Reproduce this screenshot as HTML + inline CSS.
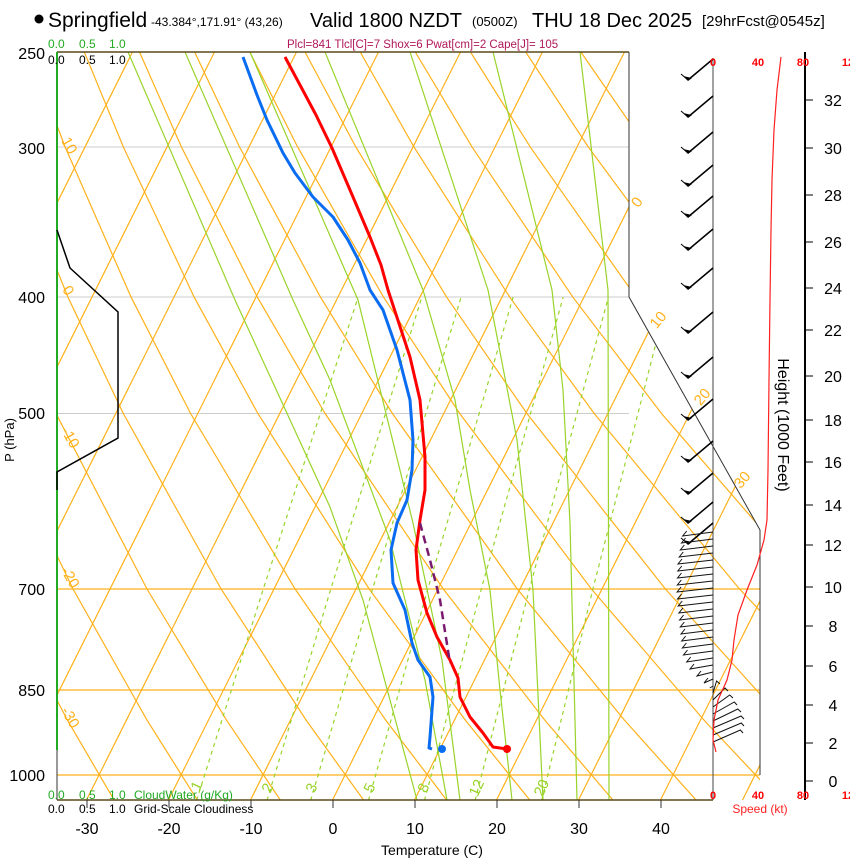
<!DOCTYPE html>
<html><head><meta charset="utf-8">
<style>
html,body{margin:0;padding:0;background:#fff;}
svg{display:block;font-family:"Liberation Sans",sans-serif;}
</style></head>
<body>
<svg width="850" height="860" viewBox="0 0 850 860" xmlns="http://www.w3.org/2000/svg" xmlns:xlink="http://www.w3.org/1999/xlink">
<defs>
<clipPath id="cp"><polygon points="57,52 629,52 629,297 760,530 760,800 57,800"/></clipPath>
<g id="b"><line x1="713" y1="0" x2="688" y2="21" stroke="#000" stroke-width="1.5"/><polygon points="683,17 692,19 688,22" fill="#000"/><line x1="688" y1="21" x2="681" y2="15" stroke="#000" stroke-width="1"/></g>
</defs>
<rect width="850" height="860" fill="#fff"/>
<g clip-path="url(#cp)" fill="none">
<g stroke="#cccccc" stroke-width="1"><line x1="57" y1="147" x2="629" y2="147"/><line x1="57" y1="297" x2="629" y2="297"/><line x1="57" y1="413.5" x2="629" y2="413.5"/></g>
<g stroke="#ffb11a" stroke-width="1.2"><line x1="57" y1="589" x2="760" y2="589"/><line x1="57" y1="690" x2="760" y2="690"/><line x1="57" y1="775" x2="760" y2="775"/></g>
<g stroke="#ffb11a" stroke-width="1.2">
<line x1="-323.5" y1="800" x2="50.5" y2="52"/>
<line x1="-241.5" y1="800" x2="132.5" y2="52"/>
<line x1="-159.5" y1="800" x2="214.5" y2="52"/>
<line x1="-77.5" y1="800" x2="296.5" y2="52"/>
<line x1="4.5" y1="800" x2="378.5" y2="52"/>
<line x1="86.5" y1="800" x2="460.5" y2="52"/>
<line x1="168.5" y1="800" x2="542.5" y2="52"/>
<line x1="250.5" y1="800" x2="624.5" y2="52"/>
<line x1="332.5" y1="800" x2="706.5" y2="52"/>
<line x1="414.5" y1="800" x2="788.5" y2="52"/>
<line x1="496.5" y1="800" x2="870.5" y2="52"/>
<line x1="578.5" y1="800" x2="952.5" y2="52"/>
<line x1="660.5" y1="800" x2="1034.5" y2="52"/>
<line x1="742.5" y1="800" x2="1116.5" y2="52"/>
</g>
<g stroke="#ffb11a" stroke-width="1.2">
<polyline points="114.3,800.4 67.4,720.1 -1.1,589 -78.5,413.5 -121.3,297.2 -167.3,147.1 -191.6,52"/>
<polyline points="197.5,800.4 147,720.1 73,589 -11.2,413.5 -58.2,297.2 -109.2,147.1 -136.4,52"/>
<polyline points="280.6,800.4 226.5,720.1 147,589 56,413.5 4.9,297.2 -51,147.1 -81.2,52"/>
<polyline points="363.8,800.4 306.1,720.1 221.1,589 123.3,413.5 68,297.2 7.1,147.1 -26.1,52"/>
<polyline points="446.9,800.4 385.7,720.1 295.1,589 190.6,413.5 131.1,297.2 65.2,147.1 29.1,52"/>
<polyline points="530.1,800.4 465.3,720.1 369.2,589 257.9,413.5 194.2,297.2 123.4,147.1 84.3,52"/>
<polyline points="613.2,800.4 544.8,720.1 443.3,589 325.1,413.5 257.4,297.2 181.5,147.1 139.5,52"/>
<polyline points="696.4,800.4 624.4,720.1 517.3,589 392.4,413.5 320.5,297.2 239.6,147.1 194.6,52"/>
<polyline points="779.5,800.4 704,720.1 591.4,589 459.7,413.5 383.6,297.2 297.7,147.1 249.8,52"/>
<polyline points="862.7,800.4 783.5,720.1 665.4,589 526.9,413.5 446.7,297.2 355.9,147.1 305,52"/>
<polyline points="945.8,800.4 863.1,720.1 739.5,589 594.2,413.5 509.8,297.2 414,147.1 360.2,52"/>
<polyline points="1029,800.4 942.7,720.1 813.6,589 661.5,413.5 572.9,297.2 472.1,147.1 415.3,52"/>
<polyline points="1112,800.4 1022.2,720.1 887.6,589 728.7,413.5 636,297.2 530.3,147.1 470.5,52"/>
<polyline points="1195,800.4 1101.8,720.1 961.7,589 796,413.5 699.1,297.2 588.4,147.1 525.7,52"/>
<polyline points="1278,800.4 1181.4,720.1 1035.7,589 863.3,413.5 762.2,297.2 646.5,147.1 580.9,52"/>
</g>
<g stroke="#99d42a" stroke-width="1.2" stroke-dasharray="4,4">
<polyline points="196.6,800.4 263.3,589 358.1,297.2"/>
<polyline points="267,800.4 330.8,589 421.8,297.2"/>
<polyline points="310.7,800.4 372.6,589 461.1,297.2"/>
<polyline points="368.5,800.4 427.8,589 513.1,297.2"/>
<polyline points="424.5,800.4 481.3,589 563.2,297.2"/>
<polyline points="475.1,800.4 529.4,589 608.4,297.2"/>
<polyline points="541.7,800.4 592.9,589 667.8,297.2"/>
</g>
<g stroke="#99d42a" stroke-width="1.2">
<polyline points="128,52 235,300 330,507 363,600 417,800"/>
<polyline points="185,52 293,300 330,380 390,540 425,680 447,800"/>
<polyline points="250,52 358,300 413,523 442,660 460,800"/>
<polyline points="325,52 423,290 455,400 470,490 490,590 500,690 512,800"/>
<polyline points="410,52 488,290 517,440 533,590 543,800"/>
<polyline points="493,52 552,290 563,390 570,523 577,800"/>
<polyline points="580,52 608,290 609,800"/>
</g>
</g>
<line x1="57" y1="52" x2="629" y2="52" stroke="#5a4a1a" stroke-width="1.5"/>
<polyline points="629,52 629,297 760,530 760,775" fill="none" stroke="#333" stroke-width="1"/>
<line x1="57" y1="800" x2="713" y2="800" stroke="#5a4a1a" stroke-width="1.5"/>
<g stroke="#333" stroke-width="1"><line x1="87" y1="800" x2="87" y2="808"/><line x1="169" y1="800" x2="169" y2="808"/><line x1="251" y1="800" x2="251" y2="808"/><line x1="333" y1="800" x2="333" y2="808"/><line x1="415" y1="800" x2="415" y2="808"/><line x1="497" y1="800" x2="497" y2="808"/><line x1="579" y1="800" x2="579" y2="808"/><line x1="661" y1="800" x2="661" y2="808"/></g>
<line x1="57" y1="52" x2="57" y2="750" stroke="#22aa22" stroke-width="2"/>
<line x1="57" y1="750" x2="57" y2="800" stroke="#333" stroke-width="1"/>
<line x1="713" y1="58" x2="713" y2="800" stroke="#444" stroke-width="1"/>
<polyline points="57,230 70,268 118,312 118,438 57,472 57,490" fill="none" stroke="#000" stroke-width="1.5"/>
<g font-size="15" fill="#ffb11a" text-anchor="middle">
<text transform="translate(641,205) rotate(-55)">0</text>
<text transform="translate(662,323) rotate(-50)">10</text>
<text transform="translate(706,400) rotate(-50)">20</text>
<text transform="translate(746,483) rotate(-50)">30</text>
<text transform="translate(65,148) rotate(60)">10</text>
<text transform="translate(64,293) rotate(60)">0</text>
<text transform="translate(66,440) rotate(60)">-10</text>
<text transform="translate(66,580) rotate(60)">-20</text>
<text transform="translate(66,720) rotate(60)">-30</text>
</g>
<g font-size="15" fill="#99d42a" text-anchor="middle">
<text transform="translate(201,788) rotate(-65)">1</text>
<text transform="translate(272,790) rotate(-65)">2</text>
<text transform="translate(316,790) rotate(-65)">3</text>
<text transform="translate(374,790) rotate(-65)">5</text>
<text transform="translate(428,790) rotate(-65)">8</text>
<text transform="translate(481,790) rotate(-65)">12</text>
<text transform="translate(546,790) rotate(-65)">20</text>
</g>
<polyline points="285,57 300,85 316,115 332,148 353,197 370,237 381,265 388,290 410,357 420,400 425,457 425,490 420,520 416,550 418,580 427,613 437,637 450,660 458,678 460,697 470,717 483,733 493,747 507,749" fill="none" stroke="#ff0000" stroke-width="3" stroke-linejoin="round"/>
<polyline points="243,57 257,95 267,120 283,153 295,173 313,197 333,217 348,240 360,263 370,290 383,310 397,350 410,400 413,440 412,470 407,500 397,523 391,550 393,583 405,610 412,643 418,660 430,677 433,697 430,737 429,748 432,749" fill="none" stroke="#0a6cf0" stroke-width="3" stroke-linejoin="round"/>
<polyline points="420,523 430,560 440,600 450,663" fill="none" stroke="#7a1a6e" stroke-width="2.5" stroke-dasharray="8,5"/>
<circle cx="507" cy="749" r="4" fill="#ff0000"/>
<circle cx="442" cy="749" r="4" fill="#0a6cf0"/>
<use xlink:href="#b" transform="translate(0,59)"/><use xlink:href="#b" transform="translate(0,96)"/><use xlink:href="#b" transform="translate(0,132)"/><use xlink:href="#b" transform="translate(0,165)"/><use xlink:href="#b" transform="translate(0,196)"/><use xlink:href="#b" transform="translate(0,229)"/><use xlink:href="#b" transform="translate(0,268)"/><use xlink:href="#b" transform="translate(0,312)"/><use xlink:href="#b" transform="translate(0,357)"/><use xlink:href="#b" transform="translate(0,399)"/><use xlink:href="#b" transform="translate(0,441)"/><use xlink:href="#b" transform="translate(0,473)"/><use xlink:href="#b" transform="translate(0,502)"/><use xlink:href="#b" transform="translate(0,523)"/>
<g stroke="#111" stroke-width="1" fill="none">
<polyline points="713,532 682.7,536 686.7,531"/>
<polyline points="713,539 681.5,543 685.5,538"/>
<polyline points="713,546 680.3,550 684.3,545"/>
<polyline points="713,553 679.2,557 683.2,552"/>
<polyline points="713,560 678,564 682,559"/>
<polyline points="713,567 677.8,571 681.8,566"/>
<polyline points="713,574 677.5,578 681.5,573"/>
<polyline points="713,581 677.3,585 681.3,580"/>
<polyline points="713,588 677.1,592 681.1,587"/>
<polyline points="713,595 677.5,599 681.5,594"/>
<polyline points="713,602 678.2,606 682.2,601"/>
<polyline points="713,609 678.9,613 682.9,608"/>
<polyline points="713,616 679.6,620 683.6,615"/>
<polyline points="713,623 680.3,627 684.3,622"/>
<polyline points="713,630 681,634 685,629"/>
<polyline points="713,637 681.7,641 685.7,636"/>
<polyline points="713,644 682.4,648 686.4,643"/>
<polyline points="713,651 683.5,655 687.5,650"/>
<polyline points="713,658 686.7,662 690.7,657"/>
<polyline points="713,665 690,669 694,664"/>
<polyline points="713,672 697,676 701,671"/>
<polyline points="713,679 704,683 708,678"/>
<polyline points="713,686 709.8,688"/>
<polyline points="713,693 716.6,681 720,684"/>
<polyline points="713,700 725,688 728,691"/>
<polyline points="713,707 729.7,695 733,698"/>
<polyline points="713,714 734.3,702 737,705"/>
<polyline points="713,721 737.8,709 741,712"/>
<polyline points="713,728 741.1,716 744,719"/>
<polyline points="713,735 741.3,723 744,726"/>
<polyline points="713,742 740.4,730 743,733"/>
</g>
<polyline points="781,57 777,90 774,130 772,180 771,230 770,300 769,380 768,470 767,520 764,540 757,565 747,590 738,615 734,640 732,660 727,680 718,700 714,720 713,740 716,752" fill="none" stroke="#ff2020" stroke-width="1.2"/>
<circle cx="39" cy="19" r="4.5" fill="#000"/>
<text x="48" y="27" font-size="21">Springfield</text>
<text x="151" y="26" font-size="12">-43.384°,171.91° (43,26)</text>
<text x="310" y="27" font-size="20">Valid 1800 NZDT</text>
<text x="472" y="26" font-size="13">(0500Z)</text>
<text x="532" y="27" font-size="20">THU 18 Dec 2025</text>
<text x="702" y="26" font-size="15">[29hrFcst@0545z]</text>
<text x="287" y="48" font-size="11.5" fill="#b0185a">Plcl=841 Tlcl[C]=7 Shox=6 Pwat[cm]=2 Cape[J]= 105</text>
<g font-size="12" fill="#22aa22"><text x="48" y="48">0.0</text><text x="79" y="48">0.5</text><text x="109" y="48">1.0</text></g>
<g font-size="12" fill="#000"><text x="48" y="64">0.0</text><text x="79" y="64">0.5</text><text x="109" y="64">1.0</text></g>
<g font-size="12" fill="#22aa22"><text x="48" y="799">0.0</text><text x="79" y="799">0.5</text><text x="109" y="799">1.0</text><text x="134" y="799">CloudWater (g/Kg)</text></g>
<g font-size="12" fill="#000"><text x="48" y="813">0.0</text><text x="79" y="813">0.5</text><text x="109" y="813">1.0</text><text x="134" y="813">Grid-Scale Cloudiness</text></g>
<g font-size="16" text-anchor="end"><text x="45" y="59">250</text><text x="45" y="154">300</text><text x="45" y="303">400</text><text x="45" y="419">500</text><text x="45" y="595">700</text><text x="45" y="696">850</text><text x="45" y="781">1000</text></g>
<text font-size="13" transform="translate(14,440) rotate(-90)" text-anchor="middle">P (hPa)</text>
<g font-size="16" text-anchor="middle"><text x="87" y="834">-30</text><text x="169" y="834">-20</text><text x="251" y="834">-10</text><text x="333" y="834">0</text><text x="415" y="834">10</text><text x="497" y="834">20</text><text x="579" y="834">30</text><text x="661" y="834">40</text></g>
<text x="432" y="855" font-size="14" text-anchor="middle">Temperature (C)</text>
<line x1="805" y1="52" x2="805" y2="800" stroke="#000" stroke-width="2"/>
<g stroke="#000" stroke-width="1">
<line x1="805" y1="100" x2="813" y2="100"/><line x1="805" y1="148" x2="813" y2="148"/><line x1="805" y1="195" x2="813" y2="195"/><line x1="805" y1="242" x2="813" y2="242"/><line x1="805" y1="288" x2="813" y2="288"/><line x1="805" y1="330" x2="813" y2="330"/><line x1="805" y1="376" x2="813" y2="376"/><line x1="805" y1="420" x2="813" y2="420"/><line x1="805" y1="462" x2="813" y2="462"/><line x1="805" y1="505" x2="813" y2="505"/><line x1="805" y1="545" x2="813" y2="545"/><line x1="805" y1="587" x2="813" y2="587"/><line x1="805" y1="626" x2="813" y2="626"/><line x1="805" y1="666" x2="813" y2="666"/><line x1="805" y1="705" x2="813" y2="705"/><line x1="805" y1="743" x2="813" y2="743"/><line x1="805" y1="781" x2="813" y2="781"/>
</g>
<g font-size="16" text-anchor="middle">
<text x="833" y="106">32</text><text x="833" y="154">30</text><text x="833" y="201">28</text><text x="833" y="248">26</text><text x="833" y="294">24</text><text x="833" y="336">22</text><text x="833" y="382">20</text><text x="833" y="426">18</text><text x="833" y="468">16</text><text x="833" y="511">14</text><text x="833" y="551">12</text><text x="833" y="593">10</text><text x="833" y="632">8</text><text x="833" y="672">6</text><text x="833" y="711">4</text><text x="833" y="749">2</text><text x="833" y="787">0</text>
</g>
<text font-size="16" transform="translate(778,425) rotate(90)" text-anchor="middle">Height (1000 Feet)</text>
<g font-size="11" fill="#ff0000" font-weight="bold" text-anchor="middle"><text x="713" y="66">0</text><text x="758" y="66">40</text><text x="803" y="66">80</text><text x="848" y="66">12</text>
<text x="713" y="799">0</text><text x="758" y="799">40</text><text x="803" y="799">80</text><text x="848" y="799">12</text></g>
<text x="760" y="813" font-size="12" fill="#ff2020" text-anchor="middle">Speed (kt)</text>
</svg>
</body></html>
